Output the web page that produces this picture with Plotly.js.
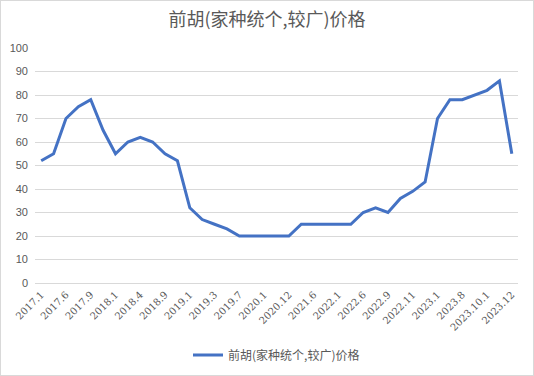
<!DOCTYPE html>
<html>
<head>
<meta charset="utf-8">
<script src="https://cdn.plot.ly/plotly-3.0.1.min.js"></script>
<style>
html,body{margin:0;padding:0;background:#fff;}
#wrap{position:relative;width:534px;height:376px;}
#chart{width:534px;height:376px;}
#frame{position:absolute;left:0;top:0;width:532px;height:374px;border:1px solid #d9d9d9;pointer-events:none;}
</style>
</head>
<body>
<div id="wrap"><div id="chart"></div><div id="frame"></div></div>
<script>
var seriesName = "前胡(家种统个,较广)价格";
var categories = ["2017.1","2017.3","2017.6","2017.8","2017.9","2017.11","2018.1","2018.3","2018.4","2018.6",
  "2018.9","2018.11","2019.1","2019.2","2019.3","2019.5","2019.7","2019.10","2020.1","2020.6",
  "2020.12","2021.3","2021.6","2021.9","2022.1","2022.3","2022.6","2022.8","2022.9","2022.10",
  "2022.11","2022.12","2023.1","2023.5","2023.8","2023.9","2023.10.1","2023.11","2023.12"];
var prices = [52,55,70,75,78,65,55,60,62,60,
  55,52,32,27,25,23,20,20,20,20,
  20,25,25,25,25,25,30,32,30,36,
  39,43,70,78,78,80,82,86,55];
var tickLabels = categories.filter(function(c,i){return i%2===0;});

var trace = {
  x: categories, y: prices, type: "scatter", mode: "lines", name: seriesName,
  line: {color: "#4472C4", width: 3}
};
var layout = {
  width: 534, height: 376,
  margin: {l: 35, r: 16, t: 48, b: 93, autoexpand: false},
  paper_bgcolor: "#ffffff", plot_bgcolor: "#ffffff",
  title: {text: seriesName, x: 0.5, xanchor: "center", y: 0.947, yanchor: "middle",
    font: {family: "Noto Sans CJK SC, sans-serif", size: 18, color: "#595959"}},
  font: {family: "Liberation Sans, sans-serif", color: "#595959"},
  showlegend: true,
  legend: {orientation: "h", x: 0.5, xanchor: "center", yref: "container", y: 0.056, yanchor: "middle", itemwidth: 30,
    font: {family: "Noto Sans CJK SC, sans-serif", size: 12, color: "#595959"}},
  xaxis: {type: "category", range: [-0.5, 38.5], tickmode: "array", tickvals: tickLabels, ticktext: tickLabels,
    tickangle: -45, showgrid: false, showline: false, zeroline: false, ticks: "", automargin: false,
    ticklabelstandoff: 3,
    tickfont: {family: "DejaVu Serif, serif", size: 10, color: "#595959"}},
  yaxis: {range: [0, 100], dtick: 10, tick0: 0, showgrid: true, gridcolor: "#d9d9d9", gridwidth: 1,
    zeroline: true, zerolinecolor: "#d9d9d9", zerolinewidth: 1, showline: false, ticks: "", automargin: false,
    ticklabelstandoff: 6,
    tickfont: {family: "Liberation Sans, sans-serif", size: 11, color: "#595959"}}
};
Plotly.newPlot("chart", [trace], layout, {displayModeBar: false, staticPlot: true});
</script>
</body>
</html>
